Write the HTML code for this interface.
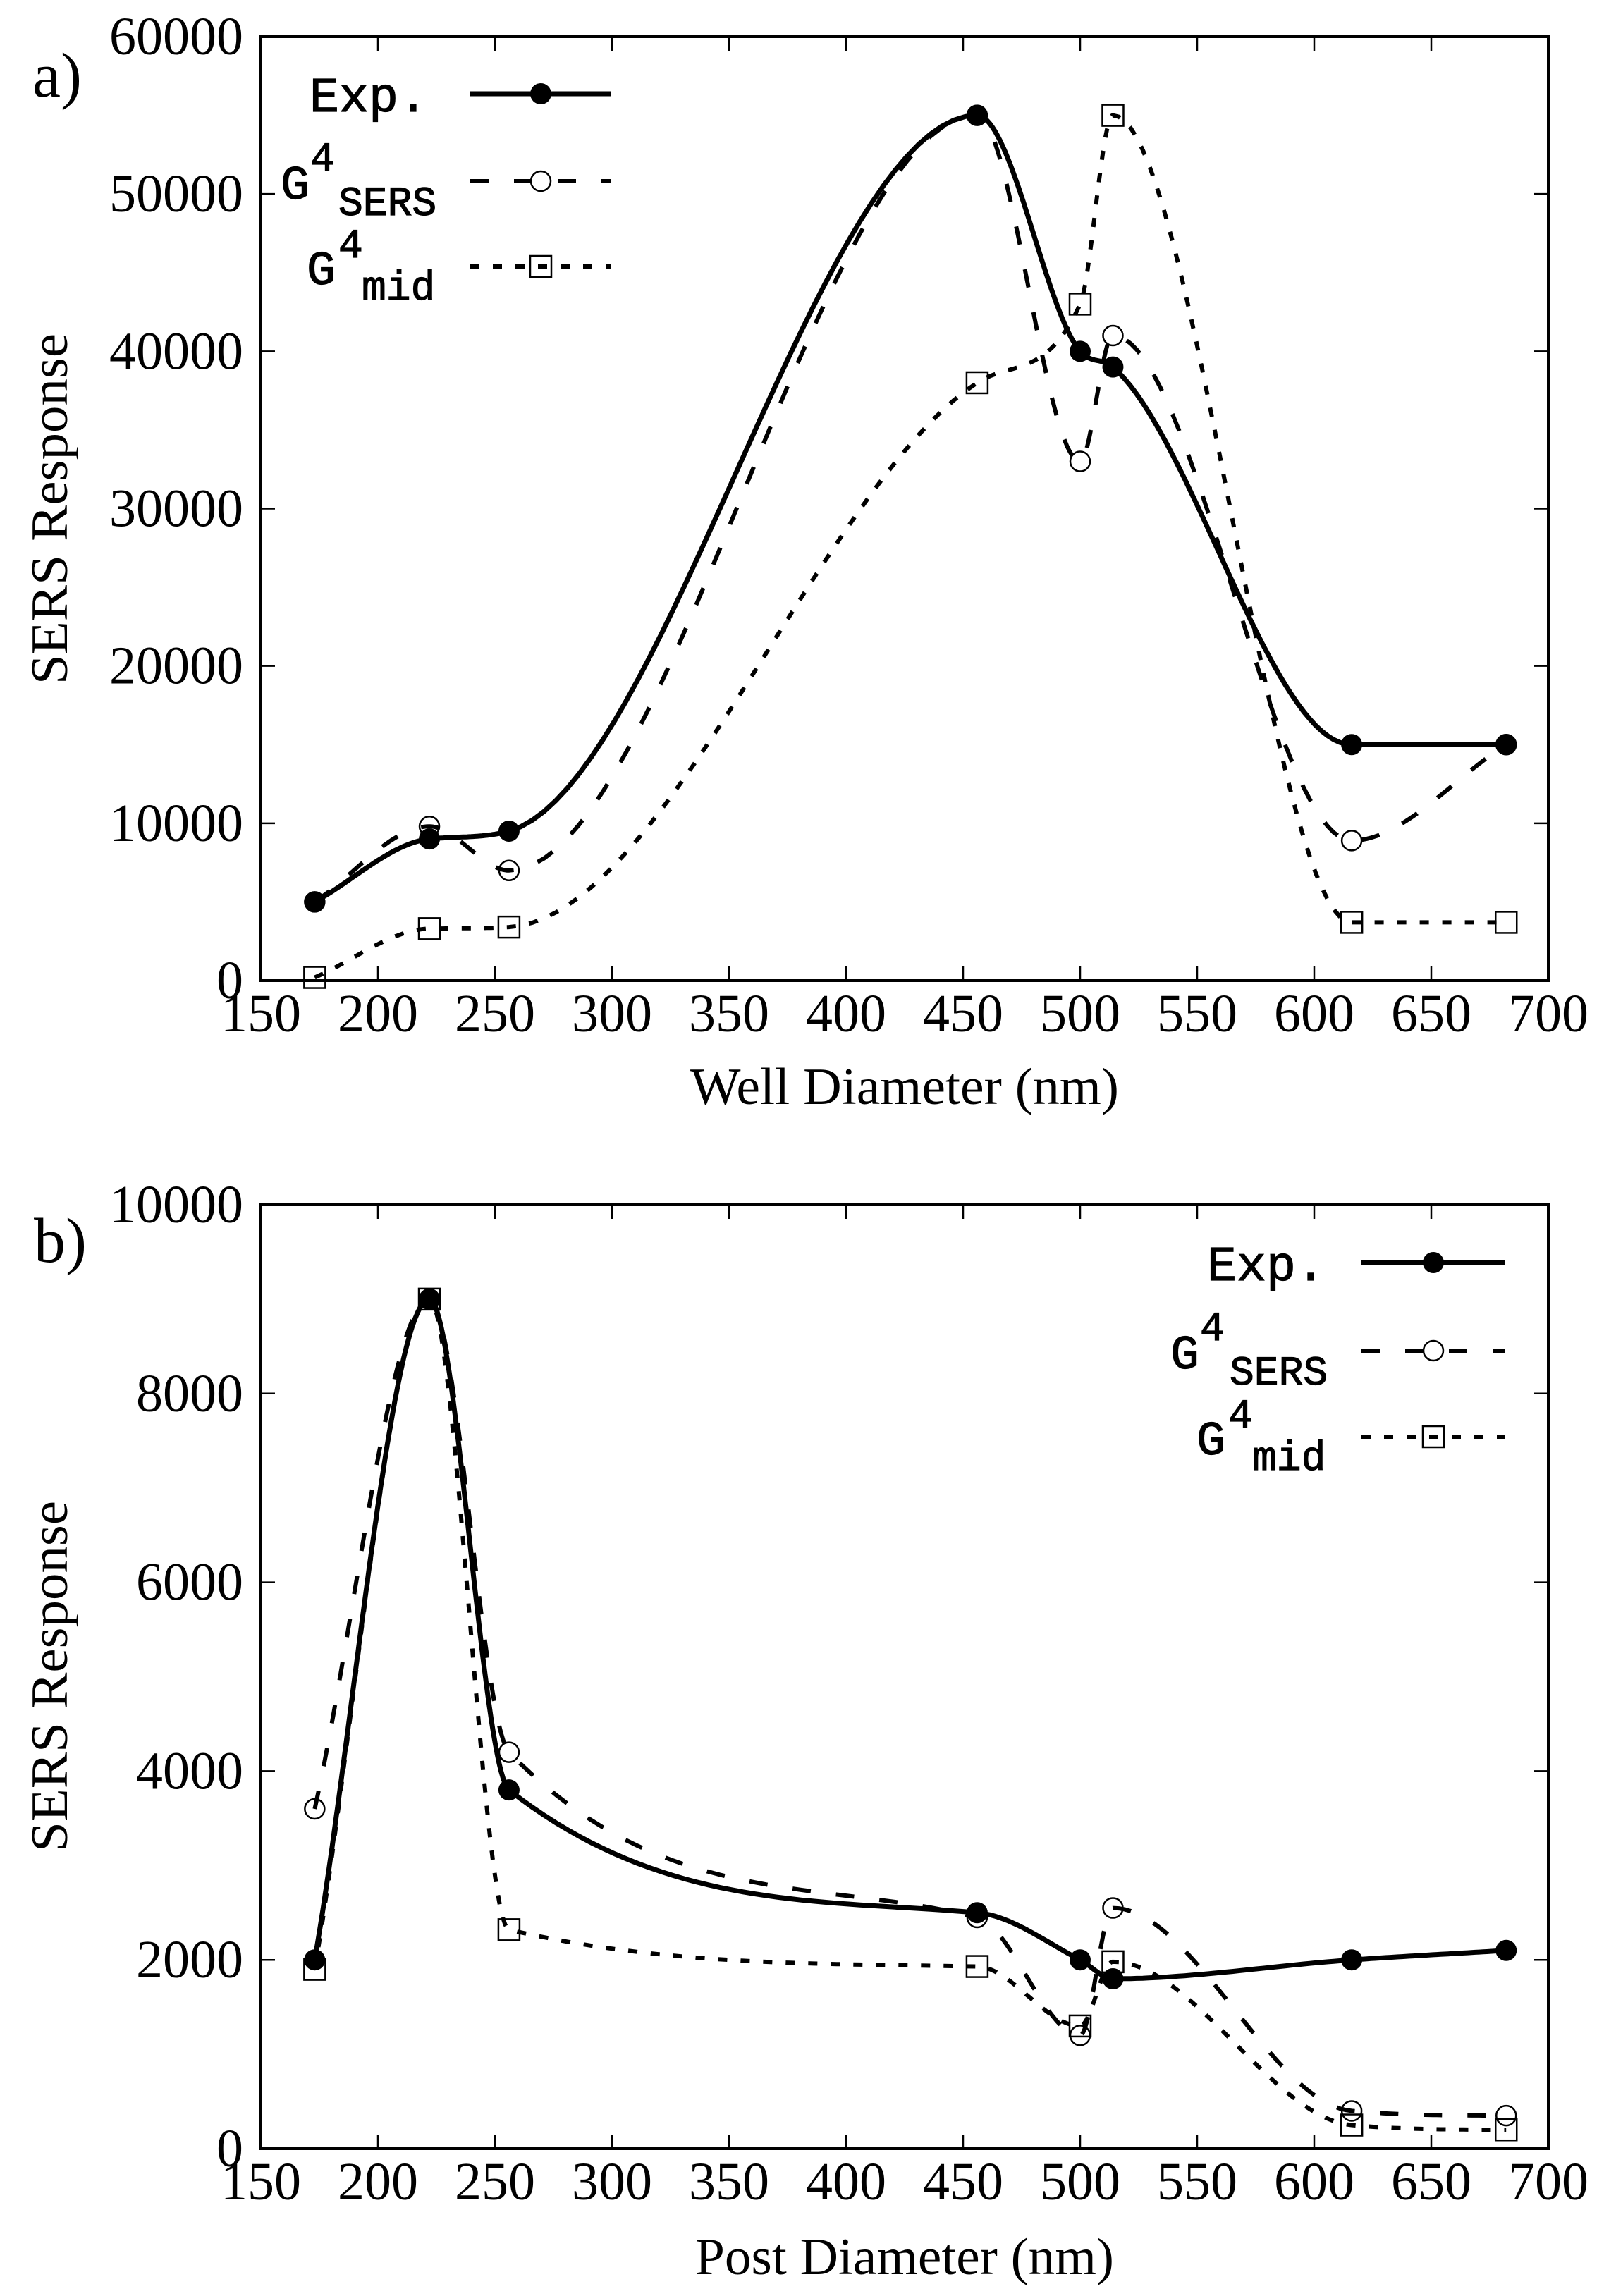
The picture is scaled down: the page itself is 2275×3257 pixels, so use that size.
<!DOCTYPE html>
<html><head><meta charset="utf-8"><style>
html,body{margin:0;padding:0;background:#fff;}
svg{display:block;}
</style></head><body>
<svg id="s" width="2275" height="3257" xmlns="http://www.w3.org/2000/svg">
<rect width="2275" height="3257" fill="#fff"/>
<g font-family="Liberation Serif, serif" fill="#000">
<text x="46" y="137" font-size="90">a)</text>
<text x="48" y="1790" font-size="90">b)</text>
<text x="1283" y="1566" font-size="74" text-anchor="middle" textLength="608" lengthAdjust="spacingAndGlyphs">Well Diameter (nm)</text>
<text x="1283" y="3226" font-size="74" text-anchor="middle" textLength="594" lengthAdjust="spacingAndGlyphs">Post Diameter (nm)</text>
<text transform="translate(95,722) rotate(-90)" font-size="74" text-anchor="middle" textLength="498" lengthAdjust="spacingAndGlyphs">SERS Response</text>
<text transform="translate(95,2378) rotate(-90)" font-size="74" text-anchor="middle" textLength="498" lengthAdjust="spacingAndGlyphs">SERS Response</text>
</g>
<g id="plots"></g>
<g font-family="Liberation Mono, monospace" fill="#000" stroke="#000" stroke-width="1.2">
<text x="607" y="158" font-size="70" text-anchor="end">Exp.</text>
<text x="398" y="282" font-size="68">G</text><text x="440" y="242" font-size="58">4</text><text x="480" y="305" font-size="58">SERS</text>
<text x="435" y="403" font-size="68">G</text><text x="480" y="365" font-size="58">4</text><text x="513" y="425" font-size="58">mid</text>
<text x="1880" y="1816" font-size="70" text-anchor="end">Exp.</text>
<text x="1660" y="1941" font-size="68">G</text><text x="1702" y="1901" font-size="58">4</text><text x="1744" y="1964" font-size="58">SERS</text>
<text x="1697" y="2063" font-size="68">G</text><text x="1742" y="2025" font-size="58">4</text><text x="1776" y="2085" font-size="58">mid</text>
</g>
</svg>
<script>
var NS="http://www.w3.org/2000/svg";
var G=document.getElementById('plots');
function el(t,a,p){var e=document.createElementNS(NS,t);for(var k in a)e.setAttribute(k,a[k]);(p||G).appendChild(e);return e;}
function mono(xs,ys){var n=xs.length,d=[],m=[];for(var i=0;i<n-1;i++)d.push((ys[i+1]-ys[i])/(xs[i+1]-xs[i]));
m[0]=d[0];m[n-1]=d[n-2];for(i=1;i<n-1;i++){m[i]=(d[i-1]*d[i]<=0)?0:(d[i-1]+d[i])/2;}
for(i=0;i<n-1;i++){if(d[i]==0){m[i]=0;m[i+1]=0;continue;}var a=m[i]/d[i],b=m[i+1]/d[i],h=a*a+b*b;if(h>9){var t=3/Math.sqrt(h);m[i]=t*a*d[i];m[i+1]=t*b*d[i];}}
var pts=[];for(i=0;i<n-1;i++){var hh=xs[i+1]-xs[i];for(var k=0;k<=40;k++){var t=k/40,t2=t*t,t3=t2*t;
var y=(2*t3-3*t2+1)*ys[i]+(t3-2*t2+t)*hh*m[i]+(-2*t3+3*t2)*ys[i+1]+(t3-t2)*hh*m[i+1];pts.push([xs[i]+t*hh,y]);}}return pts;}
var XS=[173,222,256,456,500,514,616,682];
function plot(top,bot,ymax,ystep,series){
 var L=370,R=2196;function px(x){return L+(x-150)*(R-L)/550;}function py(y){return bot-y*(bot-top)/ymax;}
 el('rect',{x:L,y:top,width:R-L,height:bot-top,fill:'none',stroke:'#000','stroke-width':4});
 for(var x=150;x<=700;x+=50){var X=px(x);el('line',{x1:X,y1:bot,x2:X,y2:bot-20,stroke:'#000','stroke-width':2.5});el('line',{x1:X,y1:top,x2:X,y2:top+20,stroke:'#000','stroke-width':2.5});
  var t=el('text',{x:X,y:bot+72,'font-size':76,'text-anchor':'middle','font-family':'Liberation Serif, serif'});t.textContent=x;}
 for(var y=0;y<=ymax;y+=ystep){var Y=py(y);el('line',{x1:L,y1:Y,x2:L+20,y2:Y,stroke:'#000','stroke-width':2.5});el('line',{x1:R,y1:Y,x2:R-20,y2:Y,stroke:'#000','stroke-width':2.5});
  var t=el('text',{x:345,y:Y+25,'font-size':76,'text-anchor':'end','font-family':'Liberation Serif, serif'});t.textContent=y;}
 series.forEach(function(s){var p=mono(XS,s.y).map(function(q){return px(q[0]).toFixed(1)+','+py(q[1]).toFixed(1);});
  var a={points:p.join(' '),fill:'none',stroke:'#000','stroke-width':s.w||6};if(s.dash)a['stroke-dasharray']=s.dash;el('polyline',a);});
 series.forEach(function(s){for(var i=0;i<XS.length;i++){var X=px(XS[i]),Y=py(s.y[i]);mark(s.m,X,Y);}});
 return {px:px,py:py};}
function mark(m,X,Y){if(m=='f')el('circle',{cx:X,cy:Y,r:15,fill:'#000'});
 else if(m=='o')el('circle',{cx:X,cy:Y,r:14,fill:'none',stroke:'#000','stroke-width':2.5});
 else el('rect',{x:X-15,y:Y-15,width:30,height:30,fill:'none',stroke:'#000','stroke-width':2.5});}
var D1='26 36',D2='13 19';
plot(52,1391,60000,10000,[
 {y:[5000,9800,7000,55000,33000,41000,8900,15000],dash:D1,m:'o'},
 {y:[200,3300,3400,38000,43000,55000,3700,3700],dash:D2,m:'s'},
 {y:[5000,9000,9500,55000,40000,39000,15000,15000],m:'f',w:7}]);
plot(1709,3048,10000,2000,[
 {y:[3600,9000,4200,2450,1200,2550,400,350],dash:D1,m:'o'},
 {y:[1900,9000,2320,1930,1300,1980,250,200],dash:D2,m:'s'},
 {y:[2000,9000,3800,2500,2000,1800,2000,2100],m:'f',w:7}]);
function leg(x1,x2,y,dash,m){var a={x1:x1,y1:y,x2:x2,y2:y,stroke:'#000','stroke-width':dash?6:7};if(dash)a['stroke-dasharray']=dash;el('line',a);mark(m,(x1+x2)/2,y);}
leg(667,867,133,null,'f');leg(667,867,257,D1,'o');leg(667,867,378,D2,'s');
leg(1931,2135,1791,null,'f');leg(1931,2135,1916,D1,'o');leg(1931,2135,2038,D2,'s');
</script>
</body></html>
